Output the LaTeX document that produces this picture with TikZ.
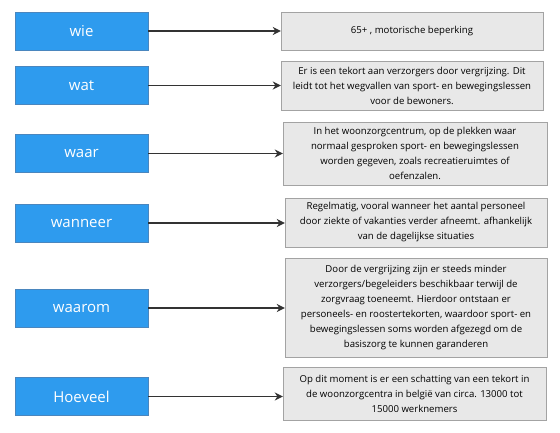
\documentclass[tikz,border=0pt]{standalone}
\usepackage{fontspec}
\setmainfont{Open Sans}
\usetikzlibrary{arrows.meta,positioning}
\definecolor{VraagBlue}{HTML}{2E9BEE}
\definecolor{VraagLine}{HTML}{4A86BE}
\definecolor{AntwFill}{HTML}{E8E8E8}
\definecolor{AntwLine}{HTML}{A3A3A3}
\definecolor{PijlGrey}{HTML}{333333}

\begin{document}
\begin{tikzpicture}[x=1pt,y=-1pt]
    \tikzset{vraag/.style={draw=VraagLine,fill=VraagBlue,text=white,
      minimum width=133pt,minimum height=38pt,font=\fontsize{15}{18}\selectfont,inner sep=0pt},
      antw/.style={draw=AntwLine,fill=AntwFill,text=black,align=center,
      minimum width=262pt,inner sep=0pt,font=\fontsize{9.6}{15}\selectfont},
      pijl/.style={draw=PijlGrey,line width=1.4pt,-{Stealth[length=8pt,width=8pt]}}}
    \useasboundingbox (0,0) rectangle (560,433);
    % vragen
    \node[vraag] (wie) at (81.5,31) {wie};
    \node[vraag] (wat) at (81.5,85.5) {wat};
    \node[vraag] (waar) at (81.5,153.5) {waar};
    \node[vraag] (wanneer) at (81.5,223) {wanneer};
    \node[vraag] (waarom) at (81.5,308) {waarom};
    \node[vraag] (hoeveel) at (81.5,396.5) {Hoeveel};
    % antwoorden
    \node[antw,minimum height=38pt] (a1) at (412,31) {65+ , motorische beperking};
    \node[antw,minimum height=49pt] (a2) at (412,85.5)
      {Er is een tekort aan verzorgers door vergrijzing. Dit\\leidt tot het wegvallen van sport- en bewegingslessen\\voor de bewoners.};
    \node[antw,minimum height=63pt,minimum width=264pt] (a3) at (415,153.5)
      {In het woonzorgcentrum, op de plekken waar\\normaal gesproken sport- en bewegingslessen\\worden gegeven, zoals recreatieruimtes of\\oefenzalen.};
    \node[antw,minimum height=49pt] (a4) at (416,222.5)
      {Regelmatig, vooral wanneer het aantal personeel\\door ziekte of vakanties verder afneemt. afhankelijk\\van de dagelijkse situaties};
    \node[antw,minimum height=99pt] (a5) at (416,307.5)
      {Door de vergrijzing zijn er steeds minder\\verzorgers/begeleiders beschikbaar terwijl de\\zorgvraag toeneemt. Hierdoor ontstaan er\\personeels- en roostertekorten, waardoor sport- en\\bewegingslessen soms worden afgezegd om de\\basiszorg te kunnen garanderen};
    \node[antw,minimum height=53pt,minimum width=263pt] (a6) at (414.5,393.5)
      {Op dit moment is er een schatting van een tekort in\\de woonzorgcentra in belgië van circa. 13000 tot\\15000 werknemers};
    % pijlen
    \draw[pijl] (wie.east) -- (wie.east -| a1.west);
    \draw[pijl] (wat.east) -- (wat.east -| a2.west);
    \draw[pijl] (waar.east) -- (waar.east -| a3.west);
    \draw[pijl] (wanneer.east) -- (wanneer.east -| a4.west);
    \draw[pijl] (waarom.east) -- (waarom.east -| a5.west);
    \draw[pijl] (hoeveel.east) -- (hoeveel.east -| a6.west);
  \end{tikzpicture}
\end{document}
